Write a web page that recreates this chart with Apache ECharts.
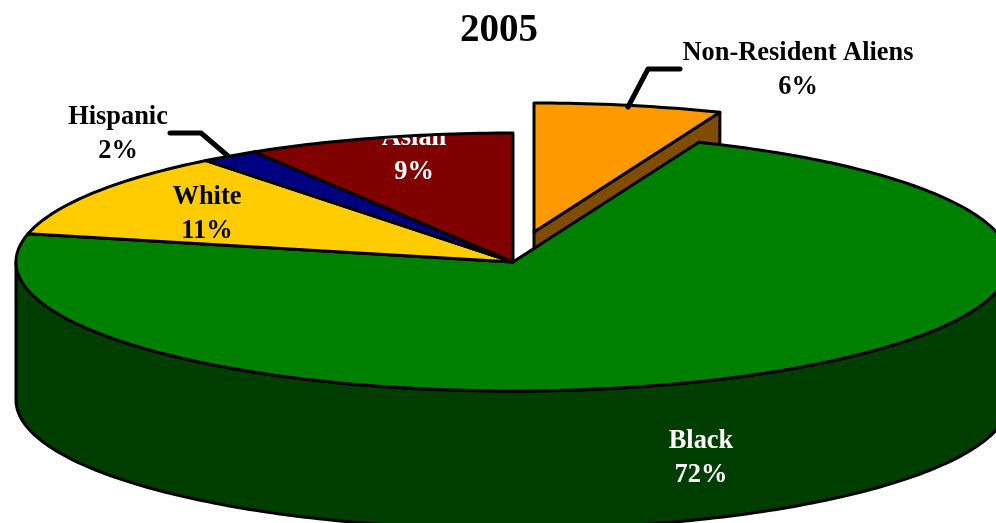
<!DOCTYPE html>
<html>
<head>
<meta charset="utf-8">
<style>html,body{margin:0;padding:0;background:#fff}#c{width:996px;height:523px}</style>
<script src="https://cdn.jsdelivr.net/npm/echarts@6/dist/echarts.min.js"></script>
</head>
<body>
<div id="c"></div>
<script>
// Data (percent share; labels show the rounded figure)
const categories = ['Non-Resident Aliens', 'Black', 'White', 'Hispanic', 'Asian'];
const shares = [6.1, 72.4, 10.9, 1.9, 8.7];
const titleText = '2005';

// Styles
const topColors = ['#FF9900', '#008000', '#FFCC00', '#000080', '#800000'];
const sideColors = ['#804C00', '#003E00', '#806600', '#000040', '#400000'];
const labelColors = ['#000000', '#FFFFFF', '#000000', '#000000', '#FFFFFF'];

// Layout
const CX = 513, CY = 262, RX = 497, RY = 129, DEPTH = 138;
const explode = [[21, -30], null, null, null, null];
const labelCenters = [[798, 70], [701, 458], [207, 214], [118, 134], [414, 155]];
const leaders = [[[680, 69], [648, 69], [628, 107]], null, null, [[170, 133], [201, 133], [228, 156]], null];
const FONT = '"Liberation Serif", "Times New Roman", serif';

const total = shares.reduce((a, b) => a + b, 0);
let running = 0;
const seriesData = shares.map(v => {
  const start = running / total * 360;
  running += v;
  return [start, running / total * 360];
});

function rim(ox, oy, deg) {
  const r = deg * Math.PI / 180;
  return [ox + RX * Math.sin(r), oy - RY * Math.cos(r)];
}
function arc(ox, oy, a, b) {
  const pts = [];
  const n = Math.max(2, Math.ceil(Math.abs(b - a)));
  for (let i = 0; i <= n; i++) pts.push(rim(ox, oy, a + (b - a) * i / n));
  return pts;
}

function renderItem(params, api) {
  const i = params.dataIndex;
  const a = api.value(0), b = api.value(1);
  const off = explode[i] || [0, 0];
  const ox = CX + off[0], oy = CY + off[1];
  const children = [];
  const line = { stroke: '#000', lineWidth: 3, lineJoin: 'round' };

  // Outer wall: front half of the rim
  const wa = Math.max(a, 90), wb = Math.min(b, 270);
  if (wb > wa) {
    const upper = arc(ox, oy, wa, wb);
    const lower = arc(ox, oy + DEPTH, wb, wa);
    children.push({ type: 'polygon', shape: { points: upper.concat(lower) },
      style: Object.assign({ fill: sideColors[i] }, line) });
  }
  // Cut face visible on the exploded slice
  if (explode[i]) {
    const p = rim(ox, oy, b);
    children.push({ type: 'polygon',
      shape: { points: [[ox, oy], p, [p[0], p[1] + DEPTH], [ox, oy + DEPTH]] },
      style: Object.assign({ fill: sideColors[i] }, line) });
  }
  // Top face
  const face = [[ox, oy]].concat(arc(ox, oy, a, b));
  children.push({ type: 'polygon', shape: { points: face }, style: { fill: topColors[i] } });
  // Label, under the outline
  children.push({ type: 'text', style: {
    x: labelCenters[i][0], y: labelCenters[i][1],
    text: categories[i] + '\n' + Math.round(shares[i]) + '%',
    fill: labelColors[i], font: 'bold 26.4px ' + FONT,
    align: 'center', verticalAlign: 'middle', lineHeight: 34 } });
  // Outline
  children.push({ type: 'polygon', shape: { points: face },
    style: Object.assign({ fill: 'none' }, line) });
  // Leader line
  if (leaders[i]) {
    children.push({ type: 'polyline', shape: { points: leaders[i] },
      style: { fill: 'none', stroke: '#000', lineWidth: 5, lineCap: 'round', lineJoin: 'round' } });
  }
  return { type: 'group', children };
}

const chart = echarts.init(document.getElementById('c'), null, { renderer: 'canvas' });
chart.setOption({
  animation: false,
  backgroundColor: '#ffffff',
  title: {
    text: titleText, left: 494, top: 6, textAlign: 'center',
    textStyle: { fontFamily: FONT, fontWeight: 'bold', fontSize: 39, color: '#000' }
  },
  tooltip: { show: false },
  series: [{
    type: 'custom',
    coordinateSystem: 'none',
    silent: true,
    clip: false,
    renderItem,
    encode: { value: [0, 1] },
    data: seriesData
  }]
});
</script>
</body>
</html>
